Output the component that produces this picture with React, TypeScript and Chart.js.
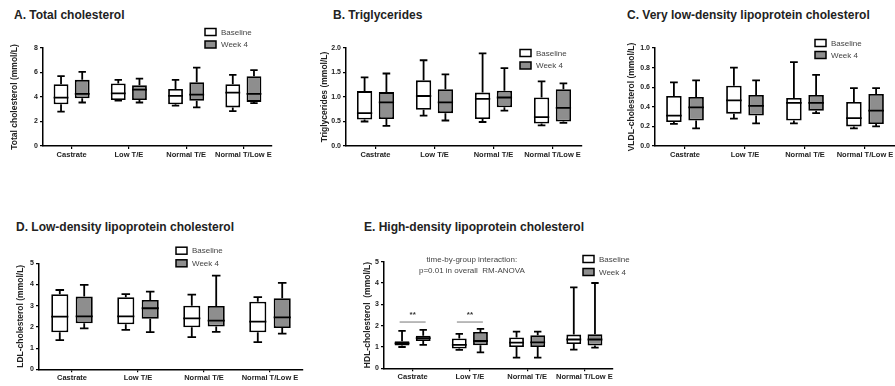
import React, { useEffect, useRef } from "react";
import { Chart, registerables } from "chart.js";
Chart.register(...registerables);

const FONT = "'Liberation Sans', Arial, Helvetica, sans-serif";

// ---------- data ----------
const groups = ["Castrate", "Low T/E", "Normal T/E", "Normal T/Low E"];
const seriesNames = ["Baseline", "Week 4"];

// each entry: [min, Q1, median, Q3, max]
const totalBaseline = [[2.8, 3.4, 3.95, 5.05, 5.7], [3.7, 3.75, 4.3, 5.1, 5.4], [3.3, 3.4, 4.1, 4.65, 5.4], [2.85, 3.15, 4.35, 5.05, 5.8]];
const totalWeek4 = [[3.55, 3.9, 4.25, 5.4, 6.05], [3.55, 3.75, 4.6, 4.95, 5.5], [3.15, 3.7, 4.2, 5.2, 6.4], [3.5, 3.6, 4.25, 5.7, 6.2]];

const tgBaseline = [[0.5, 0.54, 0.67, 1.12, 1.4], [0.62, 0.74, 1.02, 1.34, 1.75], [0.49, 0.55, 0.96, 1.09, 1.89], [0.42, 0.46, 0.59, 0.99, 1.32]];
const tgWeek4 = [[0.41, 0.55, 0.89, 1.1, 1.48], [0.52, 0.67, 0.89, 1.16, 1.46], [0.72, 0.79, 0.99, 1.13, 1.59], [0.47, 0.5, 0.78, 1.16, 1.28]];

const vldlBaseline = [[0.225, 0.245, 0.31, 0.51, 0.65], [0.28, 0.33, 0.465, 0.615, 0.8], [0.23, 0.26, 0.44, 0.49, 0.855], [0.18, 0.2, 0.285, 0.45, 0.59]];
const vldlWeek4 = [[0.18, 0.26, 0.395, 0.5, 0.67], [0.23, 0.31, 0.41, 0.52, 0.67], [0.335, 0.36, 0.44, 0.52, 0.725], [0.2, 0.225, 0.36, 0.53, 0.59]];

const ldlBaseline = [[1.38, 1.75, 2.48, 3.54, 3.74], [1.86, 2.12, 2.5, 3.4, 3.55], [1.52, 1.98, 2.4, 3.0, 3.52], [1.28, 1.75, 2.25, 3.19, 3.4]];
const ldlWeek4 = [[1.93, 2.17, 2.5, 3.43, 3.98], [1.75, 2.38, 2.88, 3.27, 3.66], [1.77, 2.02, 2.3, 2.99, 4.42], [1.68, 1.95, 2.45, 3.35, 4.08]];

const hdlBaseline = [[1.0, 1.07, 1.17, 1.27, 1.76], [0.86, 0.93, 1.1, 1.4, 1.61], [0.5, 1.0, 1.2, 1.45, 1.72], [0.88, 1.14, 1.35, 1.58, 3.8]];
const hdlWeek4 = [[1.1, 1.28, 1.42, 1.53, 1.8], [0.75, 1.08, 1.28, 1.7, 1.85], [0.5, 1.0, 1.22, 1.55, 1.72], [0.97, 1.07, 1.35, 1.6, 4.0]];

const totalTicks = [0, 2, 4, 6, 8];
const tgTicks = [0, 0.5, 1, 1.5, 2];
const vldlTicks = [0, 0.2, 0.4, 0.6, 0.8, 1];
const ldlTicks = [0, 1, 2, 3, 4, 5];
const hdlTicks = [0, 1, 2, 3, 4, 5];

const hdlNote = ["time-by-group interaction:", "p=0.01 in overall  RM-ANOVA"];
const hdlSignificant = [0, 1];
const sigMark = "**";

// ---------- layout ----------
type PanelCfg = {
  key: string;
  title: string;
  titleX: number;
  titleTop: number;
  left: number;
  top: number;
  width: number;
  height: number;
  axisX: number;
  plotTop: number;
  plotBottom: number;
  plotRight: number;
  yTitle: string;
  ticks: number[];
  decimals: number;
  base: number[][];
  week: number[][];
  legendX: number;
  legendY: number;
  legendGap: number;
  note?: boolean;
};

const panels: PanelCfg[] = [
  {
    key: "A", title: "A. Total cholesterol", titleX: 14, titleTop: 8.5,
    left: 10, top: 26, width: 280, height: 154, axisX: 43, plotTop: 48, plotBottom: 146, plotRight: 272,
    yTitle: "Total cholesterol (mmol/L)", ticks: totalTicks, decimals: 0, base: totalBaseline, week: totalWeek4,
    legendX: 205, legendY: 32, legendGap: 12.5,
  },
  {
    key: "B", title: "B. Triglycerides", titleX: 333, titleTop: 8.5,
    left: 320, top: 26, width: 275, height: 154, axisX: 346, plotTop: 48, plotBottom: 146, plotRight: 582,
    yTitle: "Triglycerides (mmol/L)", ticks: tgTicks, decimals: 1, base: tgBaseline, week: tgWeek4,
    legendX: 520, legendY: 53, legendGap: 12.5,
  },
  {
    key: "C", title: "C. Very low-density lipoprotein cholesterol", titleX: 627, titleTop: 8.5,
    left: 627, top: 26, width: 268, height: 154, axisX: 655, plotTop: 48, plotBottom: 146, plotRight: 895,
    yTitle: "VLDL-cholesterol (mmol/L)", ticks: vldlTicks, decimals: 1, base: vldlBaseline, week: vldlWeek4,
    legendX: 815, legendY: 43, legendGap: 12,
  },
  {
    key: "D", title: "D. Low-density lipoprotein cholesterol", titleX: 16, titleTop: 221,
    left: 16, top: 236, width: 294, height: 150, axisX: 39, plotTop: 263.3, plotBottom: 369.3, plotRight: 303,
    yTitle: "LDL-cholesterol (mmol/L)", ticks: ldlTicks, decimals: 0, base: ldlBaseline, week: ldlWeek4,
    legendX: 176, legendY: 250.7, legendGap: 12.6,
  },
  {
    key: "E", title: "E. High-density lipoprotein cholesterol", titleX: 364, titleTop: 221,
    left: 363, top: 236, width: 287, height: 150, axisX: 384, plotTop: 261.7, plotBottom: 368.3, plotRight: 613,
    yTitle: "HDL-cholesterol  (mmol/L)", ticks: hdlTicks, decimals: 0, base: hdlBaseline, week: hdlWeek4,
    legendX: 583, legendY: 259, legendGap: 13, note: true,
  },
];

const FILLS = ["#ffffff", "#8e8e8e"];

function BoxPanel({ cfg }: { cfg: PanelCfg }) {
  const ref = useRef<HTMLCanvasElement | null>(null);
  useEffect(() => {
    const c = cfg;
    const yWidth = c.axisX - c.left;
    const padTop = c.plotTop - c.top;
    const xHeight = c.top + c.height - c.plotBottom;
    const padRight = c.left + c.width - c.plotRight;
    const stats = [c.base, c.week];

    const plugin = {
      id: "boxw" + c.key,
      afterDatasetsDraw(chart: any) {
        const ctx = chart.ctx as CanvasRenderingContext2D;
        const ys = chart.scales.y;
        const py = (v: number) => ys.getPixelForValue(v);
        ctx.save();
        ctx.strokeStyle = "#000";
        ctx.lineWidth = 1.8;
        stats.forEach((ds, di) => {
          const meta = chart.getDatasetMeta(di);
          meta.data.forEach((bar: any, i: number) => {
            const s = ds[i];
            const p = bar.getProps(["x", "width"], true);
            const x = p.x;
            const w = p.width;
            ctx.beginPath();
            ctx.moveTo(x - w / 2, py(s[2]));
            ctx.lineTo(x + w / 2, py(s[2]));
            ctx.moveTo(x, py(s[3]));
            ctx.lineTo(x, py(s[4]));
            ctx.moveTo(x - w / 4, py(s[4]));
            ctx.lineTo(x + w / 4, py(s[4]));
            ctx.moveTo(x, py(s[1]));
            ctx.lineTo(x, py(s[0]));
            ctx.moveTo(x - w / 4, py(s[0]));
            ctx.lineTo(x + w / 4, py(s[0]));
            ctx.stroke();
          });
        });
        ctx.restore();
      },
      afterDraw(chart: any) {
        const ctx = chart.ctx as CanvasRenderingContext2D;
        ctx.save();
        seriesNames.forEach((name, i) => {
          const bx = c.legendX - c.left;
          const by = c.legendY - c.top + i * c.legendGap;
          ctx.fillStyle = FILLS[i];
          ctx.fillRect(bx, by - 3.5, 11, 7);
          ctx.strokeStyle = "#000";
          ctx.lineWidth = 1.5;
          ctx.strokeRect(bx, by - 3.5, 11, 7);
          ctx.fillStyle = "#444";
          ctx.font = `8px ${FONT}`;
          ctx.textAlign = "left";
          ctx.textBaseline = "middle";
          ctx.fillText(name, bx + 16, by + 0.5);
        });
        if (c.note) {
          const xs = chart.scales.x;
          const ys = chart.scales.y;
          ctx.fillStyle = "#444";
          ctx.font = `8px ${FONT}`;
          ctx.textAlign = "center";
          ctx.textBaseline = "middle";
          const nx = xs.getPixelForValue(1) + 2;
          ctx.fillText(hdlNote[0], nx, ys.getPixelForValue(5.1));
          ctx.fillText(hdlNote[1], nx, ys.getPixelForValue(4.58));
          hdlSignificant.forEach((g) => {
            const gx = xs.getPixelForValue(g);
            ctx.fillStyle = "#333";
            ctx.font = `bold 8px ${FONT}`;
            ctx.fillText(sigMark, gx, ys.getPixelForValue(2.5));
            ctx.strokeStyle = "#777";
            ctx.lineWidth = 1;
            ctx.beginPath();
            ctx.moveTo(gx - 13, ys.getPixelForValue(2.17));
            ctx.lineTo(gx + 13, ys.getPixelForValue(2.17));
            ctx.stroke();
          });
        }
        ctx.restore();
      },
    };

    const chart = new Chart(ref.current as HTMLCanvasElement, {
      type: "bar",
      data: {
        labels: groups,
        datasets: stats.map((ds, i) => ({
          label: seriesNames[i],
          data: ds.map((s) => [s[1], s[3]]),
          backgroundColor: FILLS[i],
          borderColor: "#000",
          borderWidth: 1.8,
          borderSkipped: false,
          categoryPercentage: 0.74,
          barPercentage: 0.7,
        })) as any,
      },
      options: {
        responsive: false,
        animation: false,
        devicePixelRatio: 1,
        layout: { padding: { left: 0, top: padTop, right: padRight, bottom: 0 } },
        plugins: { legend: { display: false }, tooltip: { enabled: false }, title: { display: false } },
        scales: {
          x: {
            type: "category",
            offset: true,
            grid: { display: true, offset: false, drawOnChartArea: false, drawTicks: true, tickLength: 3, color: "#000", lineWidth: 1.2 },
            border: { display: true, color: "#000", width: 1.5 },
            ticks: { font: { family: FONT, size: 7.5, weight: "bold" }, color: "#222", padding: 1, maxRotation: 0, autoSkip: false },
            afterFit: (s: any) => { s.height = xHeight; },
          },
          y: {
            type: "linear",
            min: c.ticks[0],
            max: c.ticks[c.ticks.length - 1],
            afterBuildTicks: (s: any) => { s.ticks = c.ticks.map((v) => ({ value: v })); },
            ticks: {
              font: { family: FONT, size: 7, weight: "bold" },
              color: "#222",
              padding: 2,
              callback: (v: any) => Number(v).toFixed(c.decimals),
            },
            grid: { drawOnChartArea: false, drawTicks: true, tickLength: 3, color: "#000", lineWidth: 1.2 },
            border: { display: true, color: "#000", width: 1.5 },
            title: { display: true, text: c.yTitle, font: { family: FONT, size: 8.5, weight: "bold" }, color: "#222", padding: 0 },
            afterFit: (s: any) => { s.width = yWidth; },
          },
        },
      } as any,
      plugins: [plugin as any],
    });
    return () => chart.destroy();
  }, [cfg]);

  return (
    <canvas
      ref={ref}
      width={cfg.width}
      height={cfg.height}
      style={{ position: "absolute", left: cfg.left, top: cfg.top, width: cfg.width, height: cfg.height }}
    />
  );
}

export default function App() {
  return (
    <div style={{ position: "fixed", left: 0, top: 0, width: 895, height: 386, background: "#fff", overflow: "hidden", fontFamily: FONT }}>
      {panels.map((p) => (
        <div
          key={"t" + p.key}
          style={{ position: "absolute", left: p.titleX, top: p.titleTop, fontSize: 12, lineHeight: "12px", fontWeight: "bold", color: "#222", whiteSpace: "nowrap" }}
        >
          {p.title}
        </div>
      ))}
      {panels.map((p) => (
        <BoxPanel key={p.key} cfg={p} />
      ))}
    </div>
  );
}
